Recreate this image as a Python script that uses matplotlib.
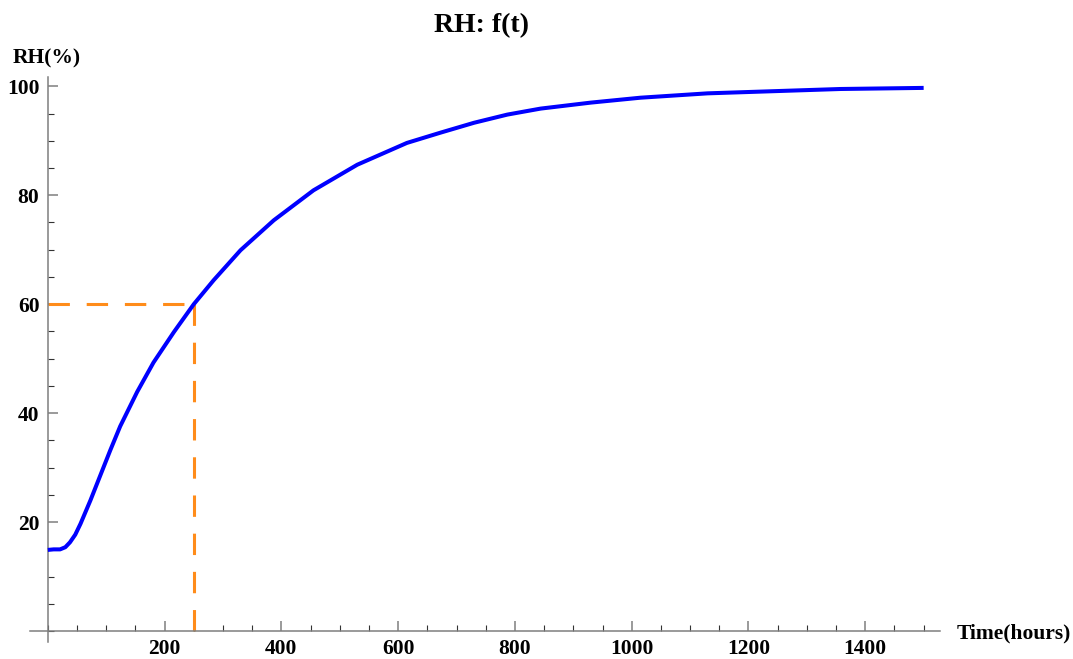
import matplotlib
matplotlib.use("Agg")
import matplotlib.pyplot as plt
from matplotlib.ticker import MultipleLocator, FixedLocator

# data
time_h = [0, 10, 21, 30, 38, 47, 56, 73, 90, 107, 124, 153, 181, 216, 250,
          284, 330, 387, 455, 530, 615, 673, 730, 787, 844, 930, 1015, 1130,
          1244, 1358, 1500]
rh = [14.9, 15.0, 15.0, 15.4, 16.3, 17.7, 19.7, 24.0, 28.6, 33.2, 37.6, 43.9,
      49.3, 54.9, 60.0, 64.4, 69.9, 75.4, 80.9, 85.6, 89.6, 91.5, 93.3, 94.8,
      95.9, 97.0, 97.9, 98.7, 99.1, 99.5, 99.7]
marker_t = 250
marker_rh = 60
x_ticks = [200, 400, 600, 800, 1000, 1200, 1400]
y_ticks = [20, 40, 60, 80, 100]

plt.rcParams['font.family'] = ['Liberation Serif', 'DejaVu Serif']
plt.rcParams['font.weight'] = 'bold'

fig = plt.figure(figsize=(10.73, 6.59), dpi=100)
ax = fig.add_axes([30/1073, 17/659, 910/1073, 565/659])

ax.plot(time_h, rh, color='#0000ff', lw=2.9, solid_capstyle='butt',
        solid_joinstyle='round', zorder=3)
ax.plot([0, marker_t], [marker_rh, marker_rh], color='#ff8c1a', lw=2.2,
        dashes=(7, 5.5), zorder=2)
ax.plot([marker_t, marker_t], [marker_rh, 0], color='#ff8c1a', lw=2.2,
        dashes=(7, 5.5), zorder=2)

ax.set_xlim(-30.5, 1528)
ax.set_ylim(-2, 101.7)

for s in ['top', 'right']:
    ax.spines[s].set_visible(False)
ax.spines['left'].set_position(('data', 0))
ax.spines['bottom'].set_position(('data', 0))
for s in ['left', 'bottom']:
    ax.spines[s].set_color('#7f7f7f')
    ax.spines[s].set_linewidth(1.1)

ax.xaxis.set_major_locator(FixedLocator(x_ticks))
ax.yaxis.set_major_locator(FixedLocator(y_ticks))
ax.xaxis.set_minor_locator(MultipleLocator(50))
ax.yaxis.set_minor_locator(MultipleLocator(5))
ax.tick_params(axis='both', which='major', direction='in', length=7, width=1.1,
               color='#7f7f7f', labelsize=15.5)
ax.tick_params(axis='both', which='minor', direction='in', length=4.5, width=0.8,
               color='#333333')
ax.tick_params(axis='x', which='major', pad=5.5)
ax.tick_params(axis='y', which='major', pad=6)
for lab in ax.get_xticklabels() + ax.get_yticklabels():
    lab.set_fontweight('bold')

fig.text(482/1073, 1 - 32/659, 'RH: f(t)', ha='center', va='baseline',
         fontsize=20, fontweight='bold')
fig.text(13/1073, 1 - 63/659, 'RH(%)', ha='left', va='baseline',
         fontsize=15.5, fontweight='bold')
fig.text(957/1073, 1 - 638/659, 'Time(hours)', ha='left', va='baseline',
         fontsize=15.5, fontweight='bold')

fig.savefig('out.png', dpi=100)
